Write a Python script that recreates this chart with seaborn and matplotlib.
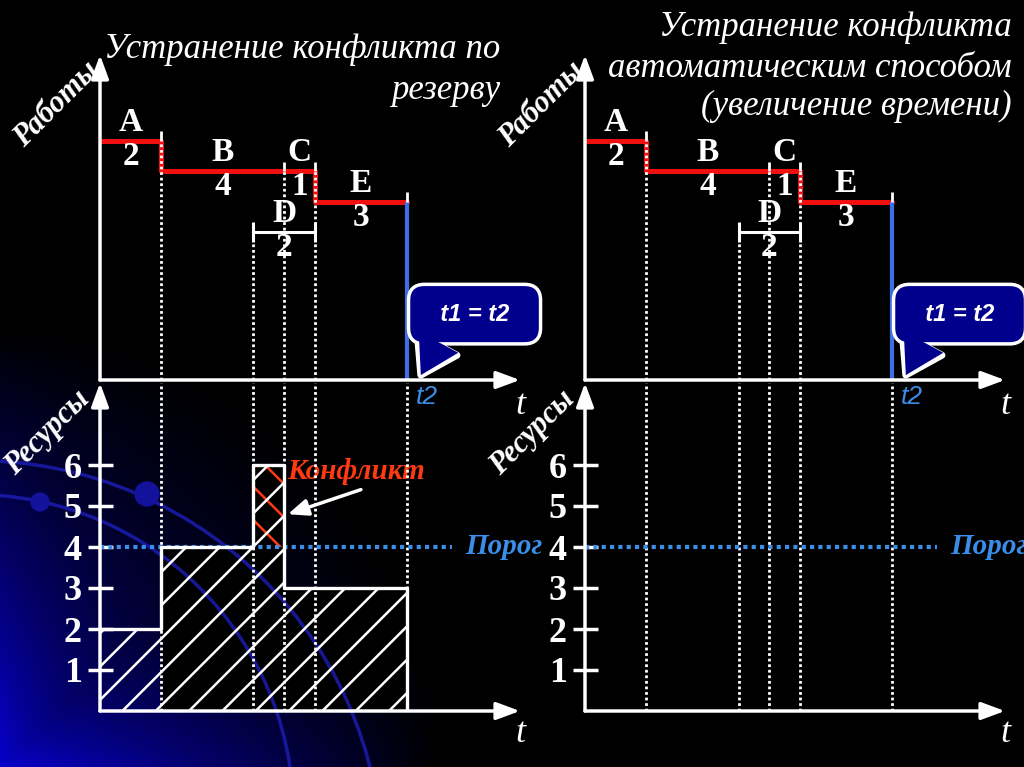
import numpy as np
import matplotlib
matplotlib.use('Agg')
import matplotlib.pyplot as plt
from matplotlib.patches import Arc, Circle
import seaborn as sns

# network schedule jobs (same for both panels)
jobs = ['A', 'B', 'C', 'D', 'E']
durations = [2, 4, 1, 2, 3]
starts = [0, 2, 6, 5, 7]
rows = [4, 3, 3, 1, 2]            # level of the job in the upper chart
resources = [2, 4, 1, 2, 3]
critical = ['A', 'B', 'C', 'E']
threshold = 4
t2 = 10
res_ticks = [1, 2, 3, 4, 5, 6]

title_left = ['Устранение конфликта по', 'резерву']
title_right = ['Устранение конфликта', 'автоматическим способом', '(увеличение времени)']

# layout in pixels of the slide
W, H = 1024, 767
PX_T, PX_ROW, PX_RES = 30.7, 30.5, 41.0
PANEL_X = [100, 585]
TOP_Y, TOP_H = 380, 325
BOT_Y, BOT_H = 711, 328
ROW_FLOOR = -3.85

WHITE = 'white'
RED = '#f01010'
BLUE_LINE = '#3c6ee6'
BLUE_TXT = '#3a8ee8'
NAVY = '#00008c'
ORANGE = '#ff3a12'
ARC_BLUE = '#1c1cb0'
SERIF = 'Liberation Serif'
SANS = 'Liberation Sans'

sns.set_theme(style='white')
plt.rcParams['hatch.linewidth'] = 1.8
plt.rcParams['font.family'] = [SERIF, 'DejaVu Sans']

fig = plt.figure(figsize=(W / 100, H / 100), dpi=100, facecolor='black')

# background: dark blue glow from the lower left corner
ax_bg = fig.add_axes([0, 0, 1, 1], zorder=-10)
yy, xx = np.mgrid[0:H, 0:W]
corner = np.clip(1 - np.hypot(xx, H - yy) / 440.0, 0, 1)
edge = np.exp(-np.minimum(xx, H - yy) / 95.0)
glow = corner * (0.35 + 0.65 * edge) * 0.8
img = np.zeros((H, W, 3))
img[..., 2] = np.clip(glow, 0, 1)
img[..., 0] = glow * 0.03
ax_bg.imshow(img, aspect='auto', extent=(0, W, H, 0))
ax_bg.axis('off')


def add_ax(x0, y_bottom, w, h, z=0):
    a = fig.add_axes([x0 / W, 1 - y_bottom / H, w / W, h / H], zorder=z)
    a.set_facecolor('none')
    return a


def axis_arrows(ax):
    ap = dict(arrowstyle='-|>,head_length=0.65,head_width=0.24', color=WHITE,
              lw=2.5, shrinkA=0, shrinkB=0, mutation_scale=22)
    ax.annotate('', xy=(0, 1), xytext=(0, 0), xycoords='axes fraction', arrowprops=ap)
    ax.annotate('', xy=(1, 0), xytext=(0, 0), xycoords='axes fraction', arrowprops=ap)


# boundaries of jobs -> dotted lines, each starting from the highest job touching it
bounds = {}
for s, d, r in zip(starts, durations, rows):
    for t in (s, s + d):
        if t > 0:
            bounds[t] = max(bounds.get(t, -10), r)

crit = [j for j in jobs if j in critical]
crit_x = [starts[jobs.index(j)] for j in crit] + [t2]
crit_y = [rows[jobs.index(j)] for j in crit] + [rows[jobs.index(crit[-1])]]

res_x = sorted({0, t2} | set(starts) | {s + d for s, d in zip(starts, durations)})
res_y = [sum(q for s, d, q in zip(starts, durations, resources) if s <= t < s + d)
         for t in res_x[:-1]]
res_y.append(res_y[-1])

# black backing of the later bars (under the decorative arcs)
under = add_ax(PANEL_X[0], BOT_Y, 420, BOT_H, z=-8)
under.fill_between(res_x[1:], res_y[1:], step='post', color='black', lw=0)
under.set_xlim(0, 420 / PX_T)
under.set_ylim(0, BOT_H / PX_RES)
under.axis('off')

# decorative arcs of the slide background
ax_arc = fig.add_axes([0, 0, 1, 1], zorder=-5)
ax_arc.set_facecolor('none')
ax_arc.add_patch(Arc((-24, 867), 813, 813, theta1=-97, theta2=0, color=ARC_BLUE, lw=2.5, alpha=0.85))
ax_arc.add_patch(Arc((-26, 814), 639, 639, theta1=-97, theta2=0, color=ARC_BLUE, lw=2.5, alpha=0.85))
ax_arc.add_patch(Circle((147, 494), 12, color='#12129c'))
ax_arc.add_patch(Circle((40, 502), 9, color='#12129c'))
ax_arc.set_xlim(0, W)
ax_arc.set_ylim(H, 0)
ax_arc.axis('off')

for p, x0 in enumerate(PANEL_X):
    # ---------------- upper chart: jobs ----------------
    ax = add_ax(x0, TOP_Y, 420, TOP_H)
    sns.lineplot(x=crit_x, y=crit_y, drawstyle='steps-post', color=RED, lw=3.6,
                 ax=ax, legend=False)
    for t, r in bounds.items():
        if t == t2:
            ax.vlines(t, ROW_FLOOR, r, colors=BLUE_LINE, lw=3, zorder=3)
        else:
            ax.vlines(t, ROW_FLOOR, r, colors=WHITE, lw=2, linestyles=(0, (1, 1)), zorder=3)
        ax.vlines(t, r, r + 0.3, colors=WHITE, lw=2, zorder=3)
    for j, s, d, r in zip(jobs, starts, durations, rows):
        mid = s + d / 2
        if j not in critical:
            ax.plot([s, s + d], [r, r], color=WHITE, lw=2.2, marker='|', ms=14, mew=2.2)
        ax.text(mid, r + 0.6, j, ha='center', va='center', color=WHITE,
                fontsize=24, fontweight='bold', family=SERIF)
        ax.text(mid, r - 0.52, str(d), ha='center', va='center', color=WHITE,
                fontsize=24, fontweight='bold', family=SERIF)
    ax.set_xlim(0, 420 / PX_T)
    ax.set_ylim(ROW_FLOOR, ROW_FLOOR + TOP_H / PX_ROW)
    ax.axis('off')
    axis_arrows(ax)
    ax.text(t2 + 0.3, ROW_FLOOR - 0.55, 't2', ha='left', va='center', color=BLUE_TXT,
            fontsize=19, fontstyle='italic', family=SANS)
    ax.text(420 / PX_T, ROW_FLOOR - 0.85, 't', ha='center', va='center', color=WHITE,
            fontsize=26, fontstyle='italic', family=SERIF)
    # callout t1 = t2 (white outline layer, then fill layer)
    for z, ec, lw in [(5, WHITE, 5), (6, NAVY, 0)]:
        ax.annotate('  t1 = t2  ', xy=(t2 + 0.45, ROW_FLOOR + 0.16), xytext=(t2 + 2.2, ROW_FLOOR + 2.16),
                    ha='center', va='center', fontsize=17, fontweight='bold',
                    fontstyle='italic', family=SANS, color=WHITE, zorder=z,
                    annotation_clip=False,
                    bbox=dict(boxstyle='round,pad=0.7,rounding_size=0.6', fc=NAVY, ec=ec, lw=lw),
                    arrowprops=dict(arrowstyle='wedge,tail_width=1.9,shrink_factor=0.5',
                                    fc=NAVY, ec=ec, lw=lw, shrinkA=0, shrinkB=0,
                                    relpos=(0.28, 0.5)))

    # ---------------- lower chart: resources ----------------
    bx = add_ax(x0, BOT_Y, 420, BOT_H)
    if p == 0:
        i = int(np.argmax(res_y))
        bx.fill_between([res_x[i], res_x[i + 1]], threshold, res_y[i], facecolor='none',
                        edgecolor=ORANGE, hatch='\\', linewidth=0, zorder=2)
        bx.fill_between(res_x, res_y, step='post', facecolor='none', edgecolor=WHITE,
                        hatch='/', linewidth=0, zorder=2)
        sns.lineplot(x=res_x, y=res_y, drawstyle='steps-post', color=WHITE, lw=2.4,
                     ax=bx, legend=False, zorder=4)
        bx.vlines(t2, 0, res_y[-1], colors=WHITE, lw=2.4, zorder=4)
        bx.text(res_x[i + 1] + 0.1, res_y[i] - 0.15, 'Конфликт', ha='left', va='center',
                color=ORANGE, fontsize=21, fontweight='bold', fontstyle='italic', family=SERIF)
        bx.annotate('', xy=(res_x[i + 1] + 0.12, threshold + 0.8),
                    xytext=(res_x[i + 1] + 2.5, threshold + 1.4),
                    arrowprops=dict(arrowstyle='-|>,head_length=0.6,head_width=0.25',
                                    color=WHITE, lw=2.5, shrinkA=0, shrinkB=0,
                                    mutation_scale=20), zorder=5)
    bx.vlines([t for t in bounds], 0, BOT_H / PX_RES, colors=WHITE, lw=2,
              linestyles=(0, (1, 1)), zorder=3)
    bx.hlines(threshold, 0, 11.45, colors=BLUE_TXT, lw=3, linestyles=(0, (1, 1)), zorder=3)
    bx.text(11.9, threshold, 'Порог', ha='left', va='center', color=BLUE_TXT,
            fontsize=21, fontweight='bold', fontstyle='italic', family=SERIF)
    bx.set_xlim(0, 420 / PX_T)
    bx.set_ylim(0, BOT_H / PX_RES)
    for s in bx.spines.values():
        s.set_visible(False)
    bx.set_xticks([])
    bx.set_yticks(res_ticks)
    bx.set_yticklabels([str(v) for v in res_ticks], fontsize=26, fontweight='bold',
                       family=SERIF, color=WHITE)
    bx.yaxis.set_ticks_position('left')
    bx.tick_params(axis='y', direction='inout', length=18, width=2.5, color=WHITE, pad=4)
    bx.set_xlabel('')
    bx.set_ylabel('')
    axis_arrows(bx)
    bx.text(420 / PX_T, -0.55, 't', ha='center', va='center', color=WHITE,
            fontsize=26, fontstyle='italic', family=SERIF)

    # axis names, rotated
    fig.text((x0 - 43) / W, 1 - 105 / H, 'Работы', rotation=45, ha='center', va='center',
             color=WHITE, fontsize=22, fontweight='bold', fontstyle='italic', family=SERIF)
    fig.text((x0 - 52) / W, 1 - 433 / H, 'Ресурсы', rotation=45, ha='center', va='center',
             color=WHITE, fontsize=22, fontweight='bold', fontstyle='italic', family=SERIF)

# slide titles, one text per line
for line, base in zip(title_left, [58, 99]):
    fig.text(500 / W, 1 - base / H, line, ha='right', va='baseline', color=WHITE,
             fontsize=25, fontstyle='italic', family=SERIF)
for line, base in zip(title_right, [36, 77, 115]):
    fig.text(1012 / W, 1 - base / H, line, ha='right', va='baseline', color=WHITE,
             fontsize=25, fontstyle='italic', family=SERIF)

fig.savefig('out.png', dpi=100, facecolor='black')
